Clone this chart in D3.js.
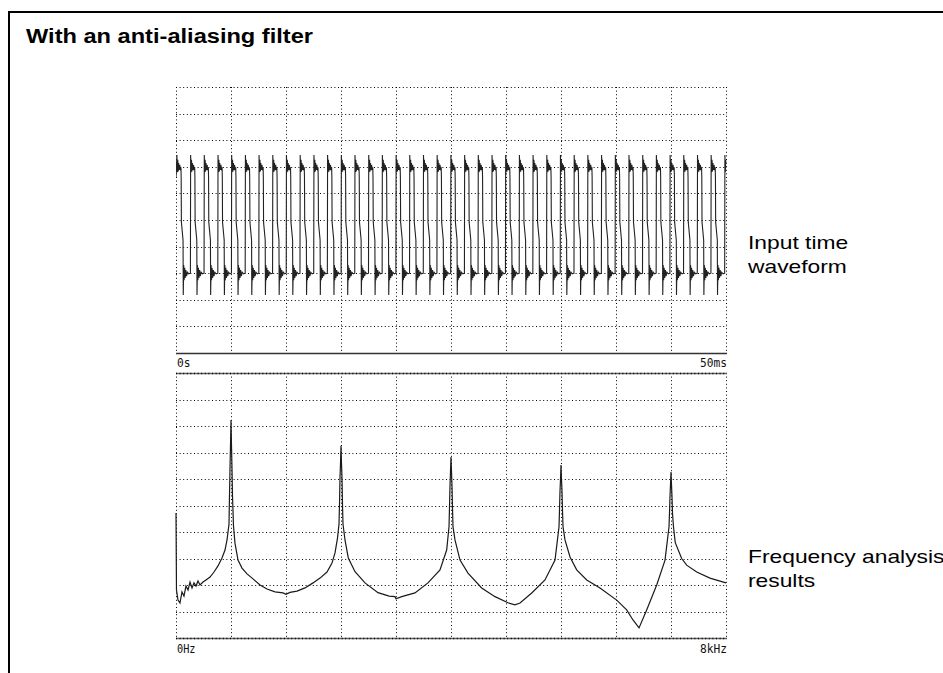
<!DOCTYPE html>
<html>
<head>
<meta charset="utf-8">
<script src="https://cdn.jsdelivr.net/npm/d3@7"></script>
<style>
  html, body { margin: 0; padding: 0; background: #fff; }
  svg { display: block; }
</style>
</head>
<body>
<svg id="chart" width="943" height="673"></svg>
<script>
// ---------------- DATA ----------------
const titleText = "With an anti-aliasing filter";
const waveLabel = ["Input time", "waveform"];
const specLabel = ["Frequency analysis", "results"];
const timeTickLabels = ["0s", "50ms"];
const freqTickLabels = ["0Hz", "8kHz"];
const timeDomain = [0, 50];      // ms
const voltDomain = [-5, 5];      // divisions
const freqDomain = [0, 8000];    // Hz
const dbDomain = [-100, 0];      // dB

// Rising-edge times of the input square wave (ms)
const risingEdges = [0.06, 1.31, 2.55, 3.80, 5.04, 6.29, 7.53, 8.78, 10.02, 11.27,
  12.52, 13.76, 15.01, 16.25, 17.50, 18.74, 19.99, 21.23, 22.48, 23.72,
  24.97, 26.22, 27.46, 28.71, 29.95, 31.20, 32.44, 33.69, 34.93, 36.18,
  37.42, 38.67, 39.92, 41.16, 42.41, 43.65, 44.90, 46.14, 47.39, 48.63, 49.88];
// Shape of one cycle after a rising edge: time offset (ms), level (div)
const cycleOffsets = [0.00, 0.02, 0.06, 0.10, 0.14, 0.18, 0.23, 0.28, 0.33, 0.39, 0.41,
  0.43, 0.58, 0.60, 0.64, 0.68, 0.73, 0.78, 0.84, 0.90, 0.98, 1.10, 1.24];
const cycleLevels = [-2.00, 2.44, 1.80, 2.26, 1.82, 2.14, 1.88, 2.07, 1.92, 1.98, 1.58,
  -0.08, -0.75, -2.82, -1.69, -2.26, -1.80, -2.18, -1.88, -2.11, -1.96, -2.02, -2.00];
const waveStartLevel = 1.6;

// Spectrum (Hz, dB)
const specHz = [0, 7, 29, 58, 87, 116, 145, 175, 204, 233, 262, 291, 320, 349, 393, 436, 495, 553, 611, 669, 713, 742,
  771, 778, 785, 793, 800, 807, 815, 822, 836, 858, 902, 960, 1033, 1120, 1222, 1324, 1440, 1556, 1600, 1658, 1760,
  1876, 1993, 2095, 2196, 2269, 2313, 2349, 2371, 2378, 2385, 2393, 2400, 2407, 2415, 2422, 2429, 2458, 2506, 2604,
  2749, 2938, 3100, 3185, 3200, 3283, 3476, 3665, 3840, 3937, 3971, 3978, 3985, 3993, 4000, 4007, 4015, 4022, 4029,
  4058, 4131, 4247, 4446, 4640, 4829, 4931, 5004, 5174, 5367, 5513, 5571, 5578, 5585, 5593, 5600, 5607, 5615, 5622,
  5629, 5658, 5731, 5828, 5974, 6167, 6410, 6555, 6647, 6735, 6846, 6992, 7113, 7171, 7178, 7185, 7193, 7200, 7207,
  7215, 7222, 7236, 7262, 7355, 7428, 7574, 7767, 8000];
const specDb = [-52.8, -81.9, -85.7, -86.8, -82.6, -84.2, -80.4, -81.9, -78.9, -81.1, -79.2, -80.4, -78.5, -80.0, -78.9, -78.1, -77.0, -75.1, -72.8, -69.8, -66.8, -63.0,
  -57.0, -46.5, -36.7, -27.2, -17.7, -27.2, -36.7, -46.5, -57.7, -64.2, -70.6, -73.6, -75.8, -77.7, -80.0, -81.5, -82.6, -83.0, -83.5, -82.8, -82.3,
  -81.1, -79.2, -77.4, -75.1, -71.7, -67.9, -62.3, -57.0, -50.0, -40.0, -34.0, -27.5, -34.0, -40.0, -50.0, -57.0, -63.0, -69.8, -75.0,
  -79.2, -82.9, -84.2, -84.4, -85.2, -84.4, -83.0, -79.2, -74.3, -66.8, -58.0, -51.0, -43.0, -37.0, -31.7, -37.0, -43.0, -51.0, -58.0,
  -63.0, -70.6, -75.5, -81.1, -84.4, -86.7, -87.5, -86.8, -83.0, -78.1, -70.6, -58.0, -52.0, -45.0, -40.0, -34.7, -40.0, -45.0, -52.0,
  -58.0, -63.0, -69.4, -74.3, -78.1, -81.1, -85.7, -89.4, -93.2, -96.2, -89.4, -80.0, -70.6, -58.0, -53.0, -47.0, -42.0, -37.4, -42.0,
  -47.0, -53.0, -58.0, -64.0, -70.0, -72.5, -75.1, -77.4, -79.2];

// ---------------- DRAW ----------------
const svg = d3.select("#chart");
const font = "'Liberation Sans', Arial, Helvetica, sans-serif";
const mono = "'DejaVu Sans Mono', 'Liberation Mono', monospace";

// outer frame (top and left borders)
svg.append("path").attr("d", "M9,673 L9,12 L943,12")
  .attr("fill", "none").attr("stroke", "#000").attr("stroke-width", 2);

svg.append("text").attr("x", 26).attr("y", 43)
  .attr("font-family", font).attr("font-weight", "bold").attr("font-size", 20)
  .attr("textLength", 287).attr("lengthAdjust", "spacingAndGlyphs")
  .text(titleText);

const L = 176, R = 726;
const x = d3.scaleLinear().domain(timeDomain).range([L, R]);
const y = d3.scaleLinear().domain(voltDomain).range([353, 87]);
const xf = d3.scaleLinear().domain(freqDomain).range([L, R]);
const yf = d3.scaleLinear().domain(dbDomain).range([638, 373]);

const gridColor = "#000";
const dash = "1,2.6";

function hGrid(scale, vals, x1, x2) {
  svg.append("g").selectAll("line").data(vals).join("line")
    .attr("x1", x1).attr("x2", x2)
    .attr("y1", d => Math.round(scale(d)) + 0.5).attr("y2", d => Math.round(scale(d)) + 0.5)
    .attr("stroke", gridColor).attr("stroke-width", 1).attr("stroke-dasharray", dash);
}
function vGrid(scale, vals, y1, y2) {
  svg.append("g").selectAll("line").data(vals).join("line")
    .attr("y1", y1).attr("y2", y2)
    .attr("x1", d => Math.round(scale(d)) + 0.5).attr("x2", d => Math.round(scale(d)) + 0.5)
    .attr("stroke", gridColor).attr("stroke-width", 1).attr("stroke-dasharray", dash);
}

// top panel grid
const vTicks = d3.range(voltDomain[0] + 1, voltDomain[1] + 1, 1);
hGrid(y, vTicks, L, R + 1);
vGrid(x, d3.range(0, 50.01, 5), 87, 353);
svg.append("line").attr("x1", L).attr("x2", R + 1).attr("y1", 353.5).attr("y2", 353.5)
  .attr("stroke", "#333").attr("stroke-width", 1.3);

// bottom panel grid
const dbTicks = d3.range(-90, 0, 10);
hGrid(yf, dbTicks, L, R + 1);
vGrid(xf, d3.range(0, 8001, 800), 373, 638);
[0, -100].forEach(v => {
  svg.append("line").attr("x1", L).attr("x2", R + 1)
    .attr("y1", Math.round(yf(v)) + 0.5).attr("y2", Math.round(yf(v)) + 0.5)
    .attr("stroke", "#666").attr("stroke-width", 1.3);
  svg.append("line").attr("x1", L).attr("x2", R + 1)
    .attr("y1", Math.round(yf(v)) + 0.5).attr("y2", Math.round(yf(v)) + 0.5)
    .attr("stroke", "#000").attr("stroke-width", 1.3).attr("stroke-dasharray", dash);
});

// axis end labels
const tl = svg.append("g").attr("font-family", mono).attr("font-size", 13).attr("fill", "#111");
tl.append("text").attr("x", x(timeDomain[0]) + 1).attr("y", 367).text(timeTickLabels[0])
  .attr("textLength", 13.5).attr("lengthAdjust", "spacingAndGlyphs");
tl.append("text").attr("x", x(timeDomain[1]) + 1).attr("y", 367).attr("text-anchor", "end")
  .text(timeTickLabels[1]).attr("textLength", 27).attr("lengthAdjust", "spacingAndGlyphs");
tl.append("text").attr("x", xf(freqDomain[0]) + 1).attr("y", 653).text(freqTickLabels[0])
  .attr("textLength", 18.5).attr("lengthAdjust", "spacingAndGlyphs");
tl.append("text").attr("x", xf(freqDomain[1]) + 1).attr("y", 653).attr("text-anchor", "end")
  .text(freqTickLabels[1]).attr("textLength", 27).attr("lengthAdjust", "spacingAndGlyphs");

// waveform
const wavePts = [[0, waveStartLevel]];
risingEdges.forEach((e, i) => {
  cycleOffsets.forEach((dt, j) => {
    if (i === 0 && j === 0) return;
    const t = e + dt;
    if (t <= timeDomain[1]) wavePts.push([t, cycleLevels[j]]);
  });
});
svg.append("defs").append("clipPath").attr("id", "clipTop")
  .append("rect").attr("x", L).attr("y", 80).attr("width", R - L + 1).attr("height", 273);
svg.append("path").datum(wavePts)
  .attr("clip-path", "url(#clipTop)")
  .attr("fill", "none").attr("stroke", "#222").attr("stroke-width", 1.1)
  .attr("d", d3.line().x(d => x(d[0])).y(d => y(d[1])));

// spectrum
const specPts = specHz.map((h, i) => [h, specDb[i]]);
svg.append("path").datum(specPts)
  .attr("fill", "none").attr("stroke", "#1a1a1a").attr("stroke-width", 1.2)
  .attr("d", d3.line().x(d => xf(d[0])).y(d => yf(d[1])));

// side labels (horizontally widened like the reference)
const sl = svg.append("g").attr("font-family", font).attr("font-size", 19).attr("fill", "#000");
[[waveLabel[0], 249], [waveLabel[1], 273], [specLabel[0], 563], [specLabel[1], 587]].forEach(([t, yy]) => {
  const el = sl.append("text").attr("x", 748).attr("y", yy).text(t);
  const w = el.node().getComputedTextLength();
  el.attr("textLength", w * 1.2).attr("lengthAdjust", "spacingAndGlyphs");
});
</script>
</body>
</html>
